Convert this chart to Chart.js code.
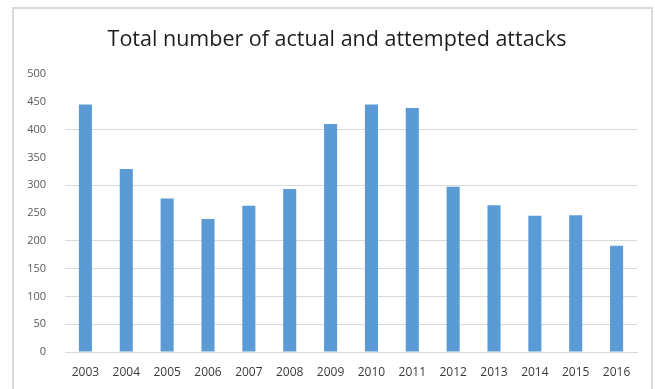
<!DOCTYPE html>
<html>
<head>
<meta charset="utf-8">
<script src="https://cdn.jsdelivr.net/npm/chart.js@4/dist/chart.umd.min.js"></script>
<style>
  html, body { margin: 0; padding: 0; background: #ffffff; }
  #wrap { position: relative; width: 655px; height: 389px; }
  canvas { display: block; }
</style>
</head>
<body>
<div id="wrap"><canvas id="chart" width="655" height="389"></canvas></div>
<script>
// Yearly totals of actual and attempted attacks
const years = ['2003', '2004', '2005', '2006', '2007', '2008', '2009',
               '2010', '2011', '2012', '2013', '2014', '2015', '2016'];
const attacks = [445, 329, 276, 239, 263, 293, 410, 445, 439, 297, 264, 245, 246, 191];

// Y axis range and step
const yMin = 0;
const yMax = 500;
const yStep = 50;

const FONT = '"Open Sans", "Liberation Sans", Arial, sans-serif';
const GRID = '#d9d9d9';

// light grey frame round the whole chart
const framePlugin = {
  id: 'frame',
  beforeDraw(chart) {
    const ctx = chart.ctx;
    ctx.save();
    ctx.fillStyle = '#ffffff';
    ctx.fillRect(0, 0, chart.width, chart.height);
    ctx.strokeStyle = '#d9d9d9';
    ctx.lineWidth = 2;
    ctx.strokeRect(13, 8, 639, chart.height + 10);
    ctx.restore();
  }
};

// heading centred over the framed box rather than the canvas
const headingPlugin = {
  id: 'heading',
  afterDraw(chart, args, opts) {
    const ctx = chart.ctx;
    ctx.save();
    ctx.font = `${opts.size}px ${opts.family}`;
    ctx.fillStyle = opts.color;
    ctx.textAlign = 'center';
    ctx.textBaseline = 'alphabetic';
    ctx.fillText(opts.text, opts.x, opts.y);
    ctx.restore();
  }
};

new Chart(document.getElementById('chart'), {
  type: 'bar',
  data: {
    labels: years,
    datasets: [{
      label: 'Attacks',
      data: attacks,
      backgroundColor: '#5b9bd5',
      borderWidth: 0,
      barPercentage: 0.64,
      categoryPercentage: 0.5
    }]
  },
  options: {
    responsive: false,
    animation: false,
    devicePixelRatio: 1,
    layout: { padding: { left: 0, right: 18, top: 74, bottom: 0 } },
    plugins: {
      legend: { display: false },
      tooltip: { enabled: false },
      title: { display: false },
      heading: {
        text: 'Total number of actual and attempted attacks',
        color: '#1e1e1e',
        family: FONT,
        size: 21.5,
        x: 337,
        y: 46
      }
    },
    scales: {
      x: {
        grid: { display: false, drawTicks: false },
        border: { display: true, color: GRID, width: 1 },
        ticks: {
          color: '#3a3a3a',
          font: { family: FONT, size: 12 },
          padding: 13,
          maxRotation: 0,
          autoSkip: false
        },
        afterFit(scale) { scale.height = 37; }
      },
      y: {
        min: yMin,
        max: yMax,
        grid: {
          drawTicks: false,
          lineWidth: 1,
          color(ctx) {
            const v = ctx.tick ? ctx.tick.value : null;
            return (v === 500 || v === 450 || v === 350 || v === 250) ? 'rgba(0,0,0,0)' : GRID;
          }
        },
        border: { display: false },
        ticks: {
          stepSize: yStep,
          color: '#595959',
          font: { family: FONT, size: 11 },
          padding: 19
        },
        afterFit(scale) { scale.width = 65; }
      }
    }
  },
  plugins: [framePlugin, headingPlugin]
});
</script>
</body>
</html>
